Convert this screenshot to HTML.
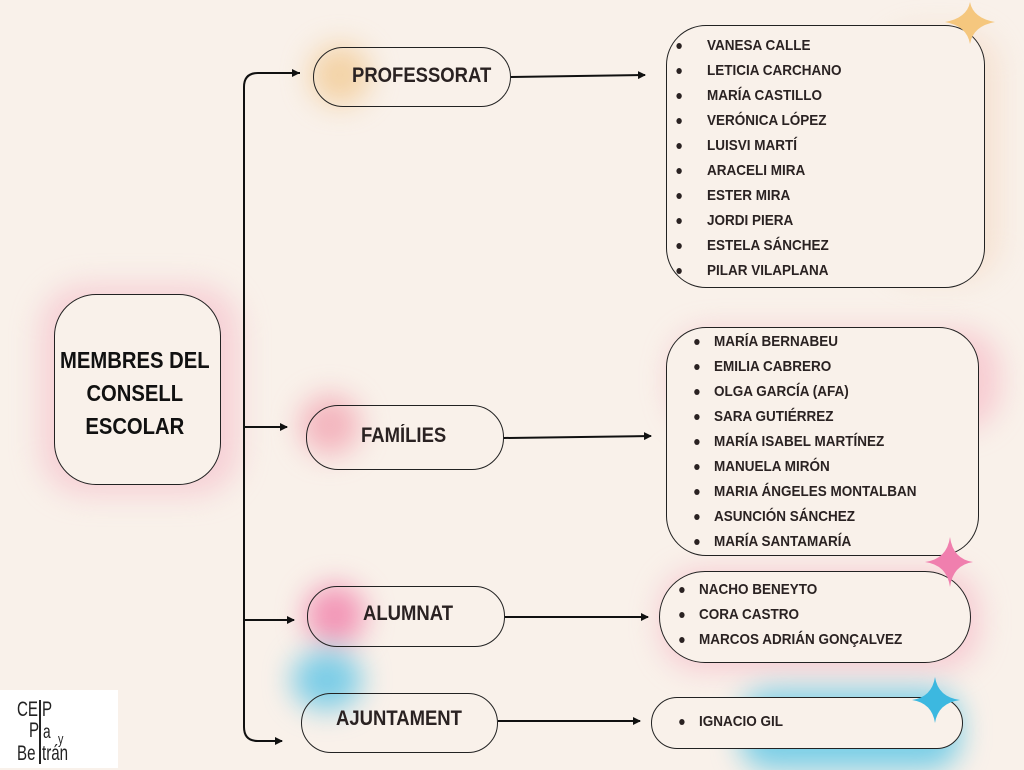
<!DOCTYPE html>
<html><head><meta charset="utf-8"><style>
*{margin:0;padding:0;box-sizing:border-box}
body{width:1024px;height:768px;background:#f9f1ea;position:relative;overflow:hidden;font-family:"Liberation Sans",sans-serif;color:#2a2222}
.g{position:absolute;border-radius:50%;filter:blur(14px)}
.b{position:absolute;border:1.3px solid #222;background:#f9f1ea}
.t{position:absolute;font-weight:bold;text-transform:uppercase;white-space:nowrap;transform:scaleX(0.88);transform-origin:left center}
.l{position:absolute;font-weight:bold;font-size:15px;line-height:25px;white-space:nowrap;list-style:none;transform:scaleX(0.9);transform-origin:left top}
.l li{position:relative}
.l li::before{content:"";position:absolute;left:-22px;top:10px;width:6px;height:6px;border-radius:50%;background:#2a2222}
.l1 li::before{left:-34px}
.lg{position:absolute;font-size:21px;line-height:22px;color:#222;transform:scaleX(0.72);transform-origin:left top}
</style></head><body>
<div class="g" style="left:40px;top:285px;width:200px;height:210px;background:rgba(245,170,190,.45);border-radius:45px"></div>
<div class="g" style="left:310px;top:45px;width:60px;height:60px;background:rgba(240,190,120,.6)"></div>
<div class="g" style="left:300px;top:395px;width:60px;height:60px;background:rgba(240,140,160,.6)"></div>
<div class="g" style="left:305px;top:585px;width:60px;height:60px;background:rgba(240,110,160,.7)"></div>
<div class="g" style="left:292px;top:650px;width:70px;height:60px;background:rgba(70,190,230,.7)"></div>
<div class="g" style="left:670px;top:330px;width:330px;height:100px;background:rgba(245,150,175,.4);border-radius:40px"></div>
<div class="g" style="left:660px;top:570px;width:320px;height:100px;background:rgba(245,160,185,.45);border-radius:40px"></div>
<div class="g" style="left:740px;top:690px;width:220px;height:80px;background:rgba(80,195,230,.75);border-radius:30px"></div>
<div class="g" style="left:880px;top:30px;width:120px;height:250px;background:rgba(240,200,170,.35);border-radius:40px"></div>

<div class="b" style="left:54px;top:294px;width:167px;height:191px;border-radius:42px"></div>
<div class="t" style="left:60px;top:344px;width:170px;font-size:23px;line-height:33px;text-align:center;color:#111">MEMBRES DEL<br>CONSELL<br>ESCOLAR</div>

<div class="b" style="left:313px;top:47px;width:198px;height:60px;border-radius:30px;background:transparent"></div>
<div class="t" style="left:352px;top:64px;font-size:21px">PROFESSORAT</div>
<div class="b" style="left:306px;top:405px;width:198px;height:65px;border-radius:32px;background:transparent"></div>
<div class="t" style="left:361px;top:424px;font-size:21px">FAMÍLIES</div>
<div class="b" style="left:307px;top:586px;width:198px;height:61px;border-radius:30px;background:transparent"></div>
<div class="t" style="left:363px;top:602px;font-size:21px">ALUMNAT</div>
<div class="b" style="left:301px;top:693px;width:197px;height:60px;border-radius:30px;background:transparent"></div>
<div class="t" style="left:336px;top:707px;font-size:21px">AJUNTAMENT</div>

<div class="b" style="left:666px;top:25px;width:319px;height:263px;border-radius:40px"></div>
<ul class="l l1" style="left:707px;top:33px;">
<li>VANESA CALLE</li><li>LETICIA CARCHANO</li><li>MARÍA CASTILLO</li><li>VERÓNICA LÓPEZ</li><li>LUISVI MARTÍ</li><li>ARACELI MIRA</li><li>ESTER MIRA</li><li>JORDI PIERA</li><li>ESTELA SÁNCHEZ</li><li>PILAR VILAPLANA</li></ul>
<div class="b" style="left:666px;top:327px;width:313px;height:229px;border-radius:40px"></div>
<ul class="l" style="left:714px;top:329px">
<li>MARÍA BERNABEU</li><li>EMILIA CABRERO</li><li>OLGA GARCÍA (AFA)</li><li>SARA GUTIÉRREZ</li><li>MARÍA ISABEL MARTÍNEZ</li><li>MANUELA MIRÓN</li><li>MARIA ÁNGELES MONTALBAN</li><li>ASUNCIÓN SÁNCHEZ</li><li>MARÍA SANTAMARÍA</li></ul>
<div class="b" style="left:659px;top:571px;width:312px;height:92px;border-radius:46px"></div>
<ul class="l" style="left:699px;top:577px">
<li>NACHO BENEYTO</li><li>CORA CASTRO</li><li>MARCOS ADRIÁN GONÇALVEZ</li></ul>
<div class="b" style="left:651px;top:697px;width:312px;height:52px;border-radius:26px"></div>
<ul class="l" style="left:699px;top:709px"><li>IGNACIO GIL</li></ul>

<svg style="position:absolute;left:0;top:0" width="1024" height="768">
<defs><marker id="a" markerWidth="8" markerHeight="8" refX="7" refY="4" orient="auto" markerUnits="userSpaceOnUse"><path d="M0,0 L8,4 L0,8 z" fill="#111"/></marker></defs>
<g stroke="#111" stroke-width="2" fill="none">
<path d="M300,73 L258,73 Q244,73 244,87 L244,727 Q244,741 258,741 L282,741" marker-end="url(#a)"/>
<path d="M244,427 L287,427" marker-end="url(#a)"/>
<path d="M244,620 L294,620" marker-end="url(#a)"/>
<path d="M258,73 L299,73" marker-end="url(#a)"/>
<path d="M511,77 L645,75" marker-end="url(#a)"/>
<path d="M504,438 L651,436" marker-end="url(#a)"/>
<path d="M505,617 L648,617" marker-end="url(#a)"/>
<path d="M498,721 L640,721" marker-end="url(#a)"/>
</g>
<path d="M970,2 Q973,18 995,22 Q973,26 970,44 Q967,26 945,22 Q967,18 970,2z" fill="#f5c77e"/>
<path d="M950,537 Q953,559 973,562 Q953,565 950,587 Q947,565 925,562 Q947,559 950,537z" fill="#f07fae"/>
<path d="M935,677 Q938,697 960,700 Q938,703 935,723 Q932,703 912,700 Q932,697 935,677z" fill="#3cb8e0"/>
</svg>

<div style="position:absolute;left:0;top:690px;width:118px;height:78px;background:#fff"></div>
<div class="lg" style="left:17px;top:699px">CE</div>
<div class="lg" style="left:42px;top:699px">P</div>
<div class="lg" style="left:29px;top:720px">P</div>
<div class="lg" style="left:43px;top:722px;font-size:19px">a</div>
<div class="lg" style="left:58px;top:729px;font-size:15px">y</div>
<div class="lg" style="left:17px;top:743px">Be</div>
<div class="lg" style="left:42px;top:743px">trán</div>
<div style="position:absolute;left:39px;top:700px;width:1.5px;height:64px;background:#222"></div>
</body></html>
